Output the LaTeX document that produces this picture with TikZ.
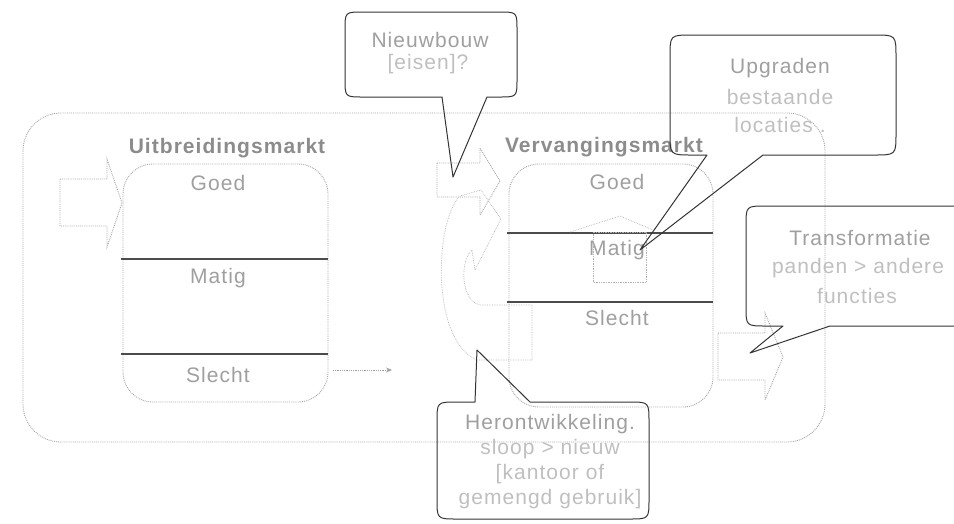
\documentclass[tikz,border=0pt]{standalone}
\usepackage{fontspec}
\setmainfont{Liberation Sans}[LetterSpace=5]
\usetikzlibrary{arrows.meta}
\begin{document}
\begin{tikzpicture}[x=1pt,y=-1pt,
  dotbox/.style={draw=gray!70, densely dotted, line width=0.9pt},
  thinbox/.style={draw=gray!60, densely dotted, line width=0.7pt},
  divider/.style={draw=black!70, line width=1.3pt},
  callout/.style={draw=black!80, line width=1pt, line join=round},
  txt/.style={font=\fontsize{21}{25}\selectfont, text=gray!75, inner sep=0pt},
  subtxt/.style={txt, text=gray!50},
  title/.style={font=\fontsize{21}{25}\selectfont\bfseries, text=gray!90, inner sep=0pt}]
\useasboundingbox (0,0) rectangle (954,523);
\clip (0,0) rectangle (954,523);

% outer frame
\draw[dotbox, rounded corners=38] (23,113) rectangle (825,442);

% Uitbreidingsmarkt
\node[title] (utitle) at (227,148) {Uitbreidingsmarkt};
\draw[dotbox, rounded corners=30] (123,164) rectangle (328,402);
\draw[divider] (121,259) -- (328,259);
\draw[divider] (121,354) -- (328,354);
\node[txt] (ugoed) at (218,183) {Goed};
\node[txt] (umatig) at (218,278) {Matig};
\node[txt] (uslecht) at (218,375) {Slecht};
% entry arrow
\draw[dotbox] (60,179) -- (107,179) -- (107,159) -- (122,203) -- (107,247) -- (107,226) -- (60,226) -- cycle;
% small arrow
\coordinate (sa1) at (333,370);
\coordinate (sa2) at (392,370);
\draw[draw=gray!75, densely dotted, line width=0.8pt, -{Stealth[length=6pt,width=5pt]}] (sa1) -- (sa2);

% Vervangingsmarkt
\node[title] (vtitle) at (604,147) {Vervangingsmarkt};
\draw[dotbox, rounded corners=30] (509,164) rectangle (713,407);
\draw[divider] (507,233) -- (713,233);
\draw[divider] (507,302) -- (713,302);
\node[txt] (vgoed) at (617,182) {Goed};
\node[txt] (vmatig) at (617,250) {Matig};
\node[txt] (vslecht) at (617,318) {Slecht};
% house
\draw[thinbox] (570,232) -- (620,216) -- (653,230);
\draw[thinbox] (593,232) rectangle (646,282);

% Nieuwbouw entry arrow
\draw[dotbox] (437,163) -- (480,163) -- (480,148) -- (500,181) -- (480,215) -- (480,197) -- (437,197) -- cycle;
% U-turn arrow (herontwikkeling)
\draw[thinbox] (532,305) -- (480,305) .. controls (460,300) and (460,260) .. (472,250)
  -- (475,270) -- (501,219) -- (481,190) -- (460,196)
  .. controls (435,220) and (430,340) .. (477,360) -- (532,360) -- cycle;
% exit arrow
\draw[dotbox] (718,333) -- (765,333) -- (765,313) -- (783,357) -- (765,400) -- (765,380) -- (718,380) -- cycle;

% Callout: Nieuwbouw
\draw[callout] (453,177) -- (442,97) -- (363,97) .. controls (345,97) .. (345,79)
  -- (345,30) .. controls (345,12) .. (363,12) -- (499,12) .. controls (517,12) .. (517,30)
  -- (517,79) .. controls (517,97) .. (499,97) -- (487,97) -- cycle;
\node[txt] (nb1) at (430,40) {Nieuwbouw};
\node[subtxt] (nb2) at (428,64) {[eisen]?};

% Callout: Upgraden
\draw[callout] (640,250) -- (707,155) -- (692,155) .. controls (670,155) .. (670,133)
  -- (670,57) .. controls (670,35) .. (692,35) -- (874,35) .. controls (896,35) .. (896,57)
  -- (896,133) .. controls (896,155) .. (874,155) -- (763,155) -- cycle;
\node[txt] (up1) at (780,68) {Upgraden};
\node[subtxt] (up2) at (780,97) {bestaande};
\node[subtxt] (up3) at (780,125) {locaties .};

% Callout: Transformatie
\draw[callout] (750,353) -- (783,326) -- (766,326) .. controls (746,326) .. (746,306)
  -- (746,226) .. controls (746,206) .. (766,206) -- (975,206) -- (975,326) -- (830,326) -- cycle;
\node[txt] (tr1) at (860,238) {Transformatie};
\node[subtxt] (tr2) at (858,268) {panden > andere};
\node[subtxt] (tr3) at (857,296) {functies};

% Callout: Herontwikkeling
\draw[callout] (477,350) -- (475,402) -- (457,402) .. controls (437,402) .. (437,422)
  -- (437,499) .. controls (437,519) .. (457,519) -- (629,519) .. controls (649,519) .. (649,499)
  -- (649,422) .. controls (649,402) .. (629,402) -- (530,402) -- cycle;
\node[txt] (he1) at (550,424) {Herontwikkeling.};
\node[subtxt] (he2) at (550,449) {sloop > nieuw};
\node[subtxt] (he3) at (550,474) {[kantoor of};
\node[subtxt] (he4) at (550,499) {gemengd gebruik]};
\end{tikzpicture}
\end{document}
